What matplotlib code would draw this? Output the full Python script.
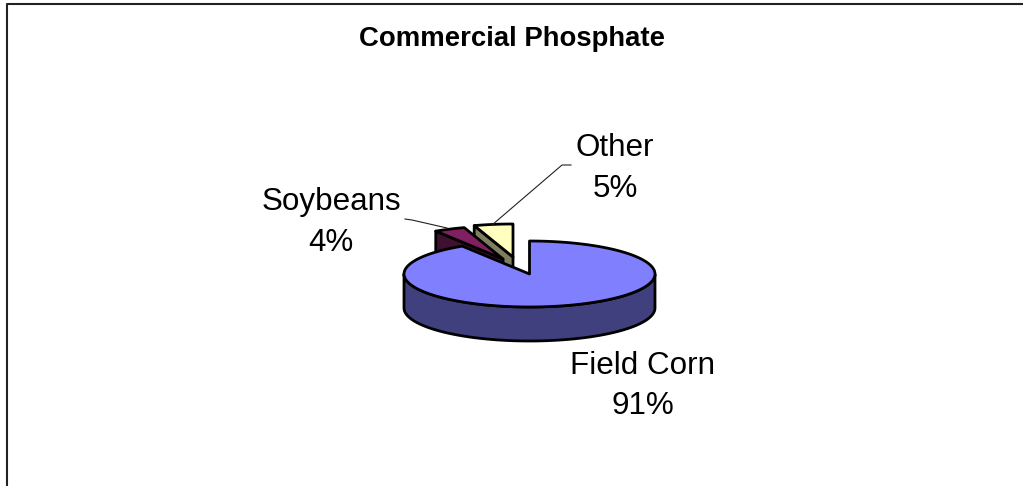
import numpy as np
import matplotlib.pyplot as plt
from matplotlib.patches import Polygon

labels = ['Field Corn', 'Soybeans', 'Other']
shares = [91, 4, 5]
pct_labels = ['91%', '4%', '5%']

top_cols = ['#8080ff', '#802060', '#ffffc0']
side_cols = ['#40407f', '#401030', '#7f7f60']
# how far each slice is pulled out of the pie (pixels)
offsets = [(0, 0), (-26.5, -15), (-16.5, -17)]

cx, cy = 529.5, 274
rx, ry = 125.5, 33
depth = 34

plt.rcParams['font.family'] = ['Liberation Sans', 'DejaVu Sans']

fig = plt.figure(figsize=(10.23, 4.86), dpi=100)
ax = fig.add_axes([0, 0, 1, 1])
ax.set_xlim(0, 1023)
ax.set_ylim(486, 0)
ax.axis('off')


def rim(a0, a1):
    # angles clockwise from 12 o'clock, in degrees
    t = np.radians(np.linspace(a0, a1, 120))
    return rx * np.sin(t), -ry * np.cos(t)


edges = np.cumsum([0] + shares) / sum(shares) * 360


def draw_slice(i):
    a0, a1 = edges[i], edges[i + 1]
    ox = cx + offsets[i][0]
    oy = cy + offsets[i][1]
    x, y = rim(a0, a1)
    x = x + ox
    y = y + oy
    # left cut face, seen when the slice is pulled out
    if i > 0:
        face = [(ox, oy), (x[0], y[0]), (x[0], y[0] + depth), (ox, oy + depth)]
        ax.add_patch(Polygon(face, fc=side_cols[i], ec='black', lw=2, joinstyle='round'))
    # outer wall, front half of the rim only
    t = np.radians(np.linspace(a0, a1, 120))
    mask = (t > np.pi / 2) & (t < 3 * np.pi / 2)
    if mask.any():
        xs, ys = x[mask], y[mask]
        wall = np.r_[np.c_[xs, ys], np.c_[xs[::-1], ys[::-1] + depth]]
        ax.add_patch(Polygon(wall, fc=side_cols[i], ec='black', lw=2, joinstyle='round'))
    top = np.r_[[[ox, oy]], np.c_[x, y]]
    ax.add_patch(Polygon(top, fc=top_cols[i], ec='black', lw=2, joinstyle='round'))


# back slices first, the big one covers them
for i in [2, 1, 0]:
    draw_slice(i)

# leader lines
ax.plot([405, 412, 447], [219, 220, 228], color='#222222', lw=0.8)
ax.plot([492, 562, 571], [225, 165, 165], color='#222222', lw=0.8)

# chart border, open on the right and bottom like the source
ax.plot([7, 7, 1023], [486, 4, 4], color='#222222', lw=1.5)

ax.text(512, 39, 'Commercial Phosphate', ha='center', va='center', fontsize=19.8, fontweight='bold')
ax.text(643, 366, labels[0], ha='center', va='center', fontsize=22.6)
ax.text(643, 406, pct_labels[0], ha='center', va='center', fontsize=22.6)
ax.text(331, 202, labels[1], ha='center', va='center', fontsize=22.6)
ax.text(331, 243, pct_labels[1], ha='center', va='center', fontsize=22.6)
ax.text(615, 148, labels[2], ha='center', va='center', fontsize=22.6)
ax.text(615, 189, pct_labels[2], ha='center', va='center', fontsize=22.6)

fig.savefig('out.png', dpi=100)
